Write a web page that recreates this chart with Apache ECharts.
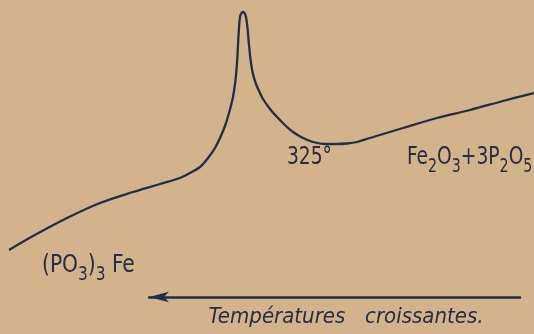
<!DOCTYPE html>
<html><head><meta charset="utf-8">
<script src="https://cdn.jsdelivr.net/npm/echarts@6/dist/echarts.min.js"></script>
<style>html,body{margin:0;padding:0;background:#d3b38c}#c{width:534px;height:334px}</style>
</head><body><div id="c"></div>
<script>
// Curve: horizontal position (arbitrary units) and signal (arbitrary units)
const xPos = [9,33,67,100,133,160,180,190,200,208,215,220,225,229,233,235.5,237,238,239,240,241.5,243,244.5,246,247.5,249,251,253,256,260,263,270,277,287,293,303,313,325,337,347,357,370,403,437,470,503,534];
const signal = [84,98,116,131,142,150,156,161,167,176,186,196,208,221,237,254,271,289,306,317,321,322,321,317,306,289,271,260,250,241,235,225,217,207,202,196,192,190,190,190.5,192,196,206,216,224,233,241];
const labelTexts = ['{z|\u200b}{m|325°}', '{z|\u200b}{m|Fe}{s|2}{m|O}{s|3}{m|+3P}{s|2}{m|O}{s|5}', '{z|\u200b}{m|(PO}{s|3}{m|)}{s|3}{m| Fe}'];
const axisTitle = 'Températures\u2003croissantes.';

const ink = '#262c45';
const chart = echarts.init(document.getElementById('c'), null, {renderer: 'canvas'});
chart.setOption({
  animation: false,
  backgroundColor: '#d3b38c',
  grid: [
    {left: 0, right: 0, top: 0, bottom: 0},
    {left: 149, right: 14, bottom: 37, height: 0}
  ],
  xAxis: [
    {gridIndex: 0, type: 'value', min: 0, max: 534, show: false},
    {gridIndex: 1, type: 'value', min: 0, max: 1, position: 'bottom',
     axisLine: {show: true, symbol: ['arrow', 'none'], symbolSize: [8, 20], lineStyle: {color: ink, width: 2.5}},
     axisTick: {show: false}, axisLabel: {show: false}, splitLine: {show: false},
     name: axisTitle, nameLocation: 'middle', nameGap: 9,
     nameTextStyle: {fontFamily: 'DejaVu Sans Condensed', fontStyle: 'italic', fontSize: 22, color: ink, padding: [0, 0, 0, 23]}}
  ],
  yAxis: [
    {gridIndex: 0, type: 'value', min: 0, max: 334, show: false},
    {gridIndex: 1, type: 'value', min: 0, max: 1, show: false}
  ],
  series: [{
    type: 'line',
    xAxisIndex: 0, yAxisIndex: 0,
    data: xPos.map((x, i) => [x, signal[i]]),
    smooth: 0.33,
    showSymbol: false,
    lineStyle: {color: ink, width: 2.3}
  }]
});

// Labels anchored at data coordinates (top-left of text box), condensed horizontally
const anchors = [[287, 188.7], [407, 188.7], [42, 80.7]];
const rich = {
  z: {fontFamily: 'DejaVu Sans Condensed', fontSize: 4, lineHeight: 31, verticalAlign: 'top', fill: ink},
  m: {fontFamily: 'DejaVu Sans Condensed', fontSize: 25, lineHeight: 26, verticalAlign: 'top', fill: ink},
  s: {fontFamily: 'DejaVu Sans Condensed', fontSize: 19, lineHeight: 19, verticalAlign: 'bottom', fill: ink}
};
chart.setOption({
  graphic: labelTexts.map((t, i) => {
    const p = chart.convertToPixel({xAxisIndex: 0, yAxisIndex: 0}, anchors[i]);
    return {
      type: 'text', x: p[0], y: p[1], scaleX: i === 2 ? 0.9 : 0.83,
      style: {text: t, rich: rich, fill: ink, align: 'left', verticalAlign: 'top',
              fontFamily: 'DejaVu Sans Condensed', fontSize: 25}
    };
  })
});
</script></body></html>
